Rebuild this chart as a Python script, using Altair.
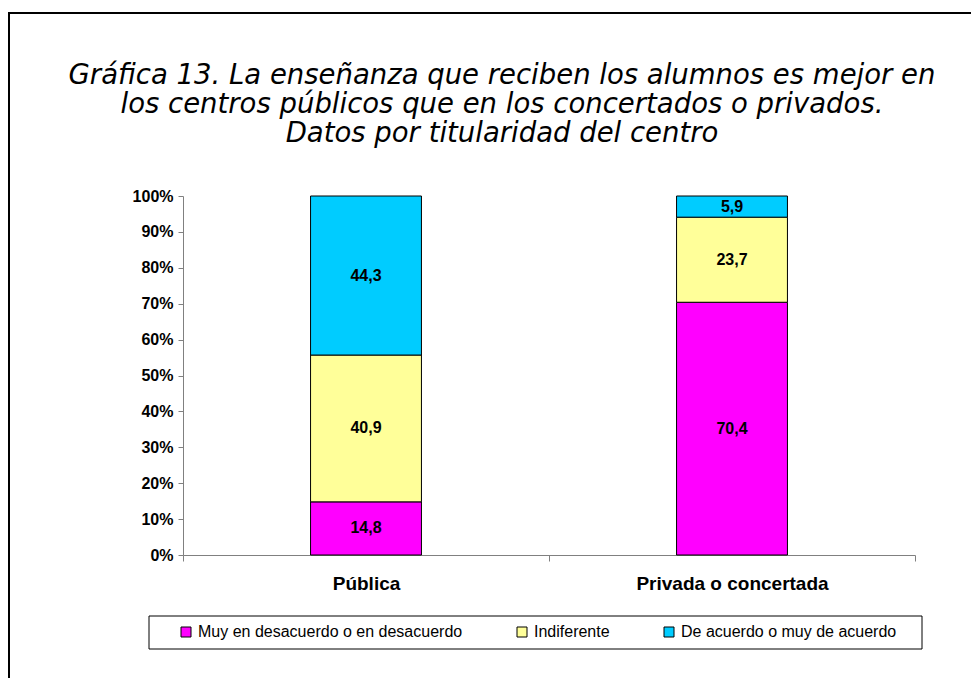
import altair as alt
import pandas as pd

categories = ["Pública", "Privada o concertada"]
series = ["Muy en desacuerdo o en desacuerdo", "Indiferente", "De acuerdo o muy de acuerdo"]
colors = ["#FF00FF", "#FFFF99", "#00CCFF"]
publica = [14.8, 40.9, 44.3]
privada = [70.4, 23.7, 5.9]
y_ticks = [0, 10, 20, 30, 40, 50, 60, 70, 80, 90, 100]
title_lines = [
    "Gráfica 13. La enseñanza que reciben los alumnos es mejor en",
    "los centros públicos que en los concertados o privados.",
    "Datos por titularidad del centro",
]

rows = []
for cat, vals in zip(categories, [publica, privada]):
    base = 0.0
    for i, (s, v) in enumerate(zip(series, vals)):
        rows.append(dict(cat=cat, serie=s, orden=i, valor=v, y0=base, y1=base + v,
                         mid=base + v / 2, etiqueta=f"{v:.1f}".replace(".", ",")))
        base += v
df = pd.DataFrame(rows)

x_scale = alt.Scale(paddingInner=0, paddingOuter=0)
x_axis = alt.Axis(title=None, tickBand="extent", labelAngle=0,
                  labelFont="Liberation Sans", labelFontSize=19,
                  labelFontWeight="bold", labelColor="black", labelLimit=0,
                  labelPadding=13, tickSize=6, domainColor="#808080",
                  tickColor="#808080", grid=False)
y_scale = alt.Scale(domain=[0, 100], nice=False)
y_axis = alt.Axis(title=None, values=y_ticks, labelExpr="datum.value + '%'",
                  labelFont="Liberation Sans", labelFontSize=16,
                  labelFontWeight="bold", labelColor="black", labelOverlap=False,
                  labelPadding=5, tickSize=5, domainColor="#808080",
                  tickColor="#808080", grid=False)

bars = alt.Chart(df).mark_bar(width=alt.RelativeBandSize(0.303), stroke="black", strokeWidth=1).encode(
    x=alt.X("cat:N", sort=categories, scale=x_scale, axis=x_axis),
    y=alt.Y("y0:Q", scale=y_scale, axis=y_axis),
    y2="y1:Q",
    color=alt.Color("serie:N", scale=alt.Scale(domain=series, range=colors),
                    legend=alt.Legend(title=None, orient="none", legendX=-5, legendY=428,
                                      direction="horizontal", columns=3,
                                      symbolType="square", symbolSize=100,
                                      symbolStrokeColor="black", symbolStrokeWidth=1,
                                      labelFont="Liberation Sans", labelFontSize=16,
                                      labelColor="black", labelLimit=0, columnPadding=51,
                                      labelOffset=4, padding=0)),
    order=alt.Order("orden:Q"),
)

labels = alt.Chart(df).mark_text(font="Liberation Sans", fontSize=16, fontWeight="bold",
                                 color="black", baseline="middle").encode(
    x=alt.X("cat:N", sort=categories, scale=x_scale, axis=x_axis),
    y=alt.Y("mid:Q", scale=y_scale, axis=y_axis),
    text="etiqueta:N",
)

deco = alt.Chart(pd.DataFrame({"k": [0]}))
left_border = deco.mark_rule(color="black", strokeWidth=2).encode(
    x=alt.value(-174), y=alt.value(-183), y2=alt.value(490))
top_border = deco.mark_rule(color="black", strokeWidth=2).encode(
    x=alt.value(-175), x2=alt.value(800), y=alt.value(-183))
legend_box = deco.mark_rect(fillOpacity=0, stroke="black", strokeWidth=1).encode(
    x=alt.value(-34), x2=alt.value(739), y=alt.value(420), y2=alt.value(453))

chart = alt.layer(legend_box, bars, labels, left_border, top_border).properties(
    width=732, height=359,
    background="white",
    autosize=alt.AutoSizeParams(type="none"),
    padding={"left": 175, "top": 188, "right": 56, "bottom": 123},
    title=alt.Title(text=title_lines, font="DejaVu Sans", fontSize=27.5, fontStyle="italic",
                    fontWeight="normal", color="black", anchor="middle", frame="group",
                    dx=-47, lineHeight=29, offset=-157, baseline="alphabetic"),
).configure_view(strokeWidth=0, stroke="transparent")

chart.save("out.html", embed_options={"renderer": "svg", "actions": False})
